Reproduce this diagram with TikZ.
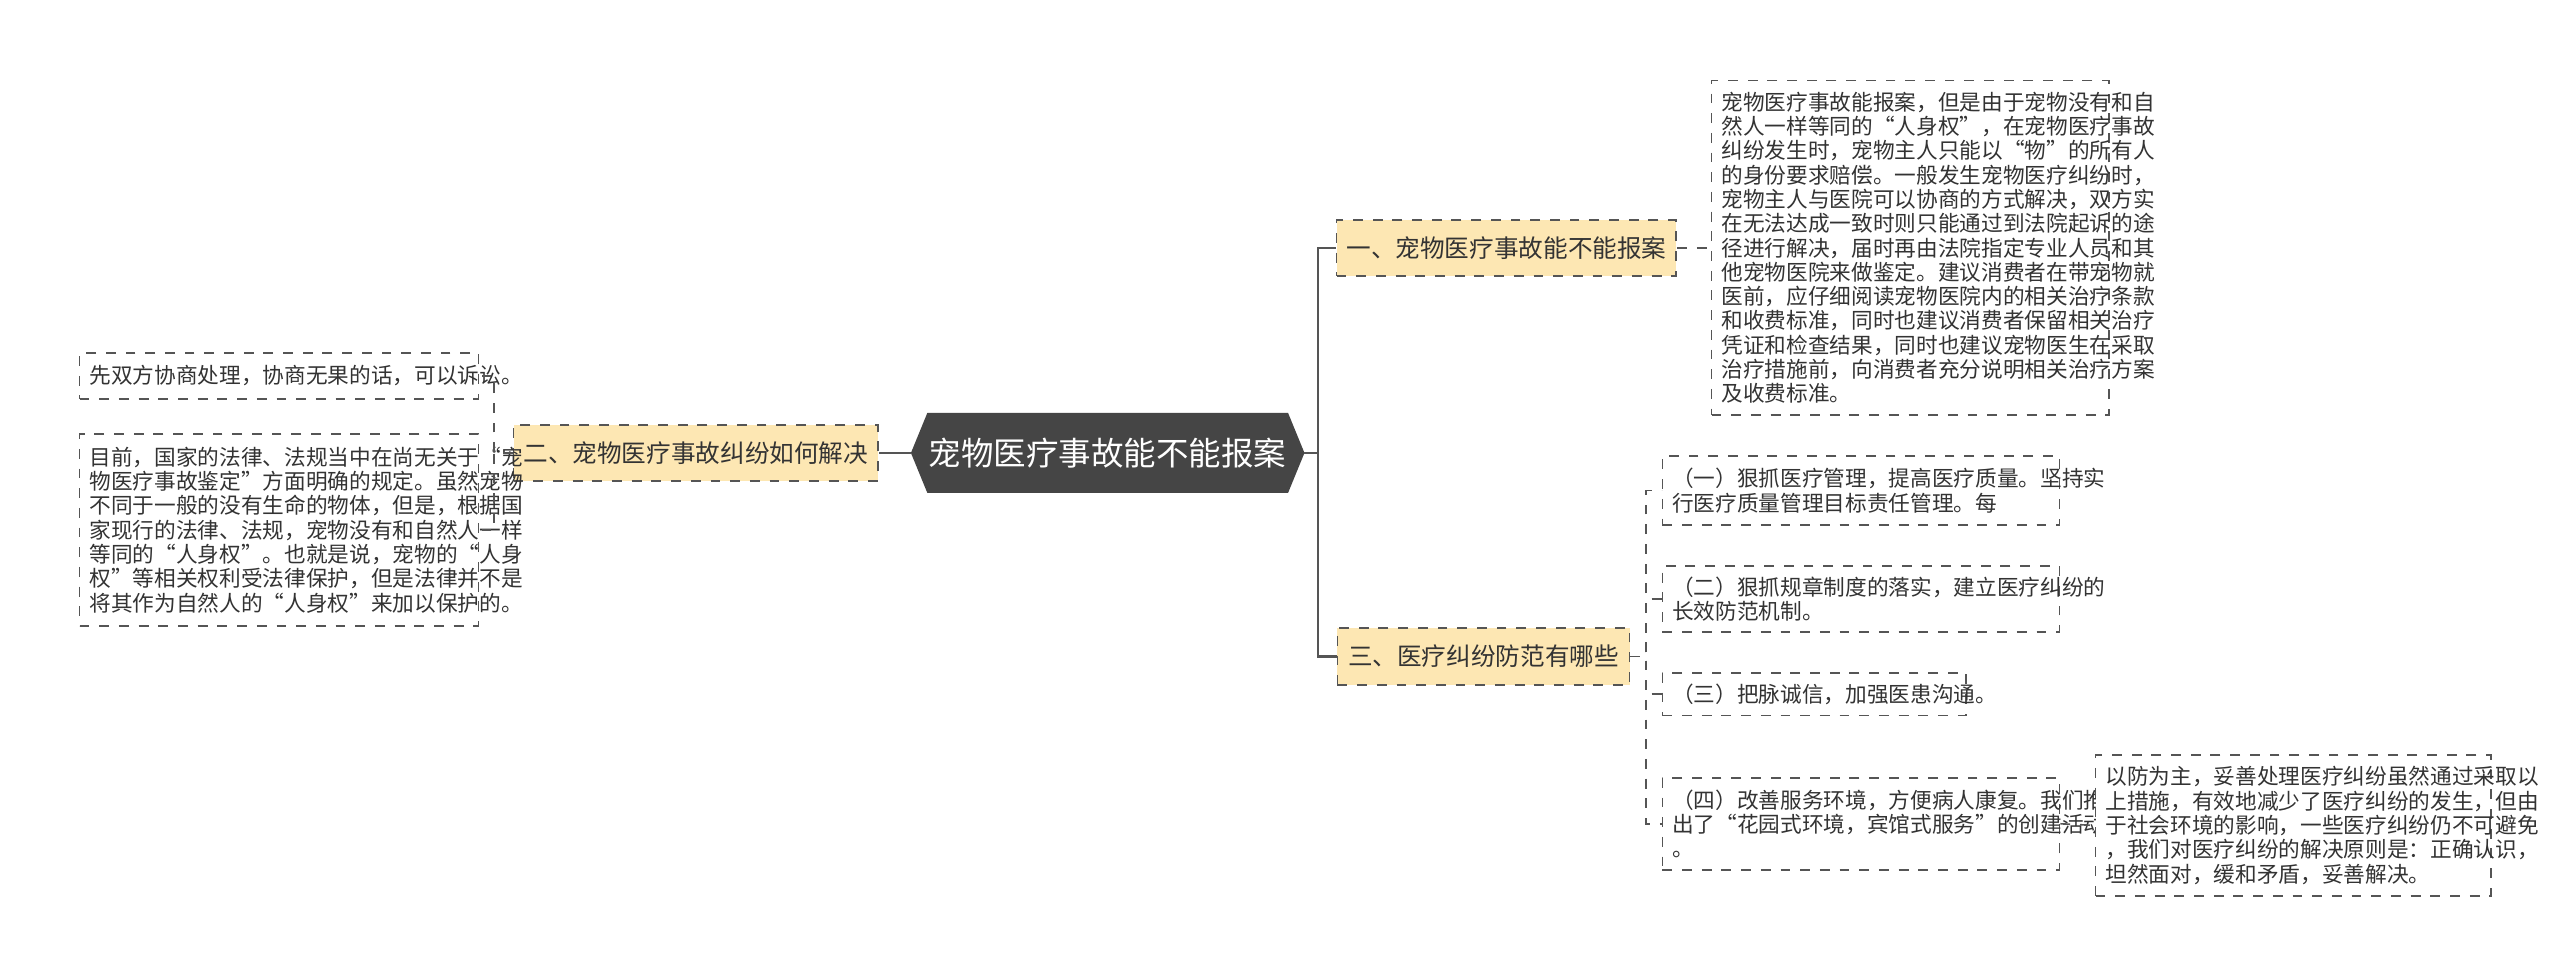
\documentclass[tikz,border=0pt]{standalone}
\usepackage{fontspec}
\setmainfont{Noto Sans CJK SC}
\definecolor{rootc}{HTML}{454545}
\definecolor{brc}{HTML}{FDE7B3}
\definecolor{linec}{HTML}{555555}
\definecolor{txt}{HTML}{333333}
\tikzset{
 para/.style={draw=linec,dashed,line width=0.5pt,fill=white,align=left,inner xsep=3pt,inner ysep=2pt,font=\fontsize{6.6pt}{7.4pt}\selectfont,text=txt,anchor=center},
 branch/.style={draw=linec,dashed,line width=0.5pt,fill=brc,inner sep=0pt,font=\fontsize{7.5pt}{9pt}\selectfont,text=txt},
 conn/.style={draw=linec,line width=0.7pt},
 dconn/.style={draw=linec,line width=0.5pt,dashed}
}
\begin{document}
\begin{tikzpicture}[x=0.5pt,y=-0.5pt]
\useasboundingbox (0,0) rectangle (1560,593);
\fill[white] (0,0) rectangle (1560,593);
% root
\node[minimum width=119.5pt,minimum height=24pt,inner sep=0pt] (root) at (675,276) {};
\fill[rootc] ([xshift=5pt]root.north west) -- ([xshift=-5pt]root.north east) -- (root.east) -- ([xshift=-5pt]root.south east) -- ([xshift=5pt]root.south west) -- (root.west) -- cycle;
\node[text=white,font=\fontsize{9.9pt}{11pt}\selectfont] (rootlabel) at (root) {宠物医疗事故能不能报案};
% branches
\node[branch,minimum width=103.5pt,minimum height=17pt] (b1) at (918,151) {一、宠物医疗事故能不能报案};
\node[branch,minimum width=111pt,minimum height=17pt] (b2) at (424,276) {二、宠物医疗事故纠纷如何解决};
\node[branch,minimum width=89pt,minimum height=17.5pt] (b3) at (904,400) {三、医疗纠纷防范有哪些};
% leaves
\node[para,text width=115pt,minimum height=102pt] (l1) at (1164,151) {宠物医疗事故能报案，但是由于宠物没有和自\\然人一样等同的“人身权”，在宠物医疗事故\\纠纷发生时，宠物主人只能以“物”的所有人\\的身份要求赔偿。一般发生宠物医疗纠纷时，\\宠物主人与医院可以协商的方式解决，双方实\\在无法达成一致时则只能通过到法院起诉的途\\径进行解决，届时再由法院指定专业人员和其\\他宠物医院来做鉴定。建议消费者在带宠物就\\医前，应仔细阅读宠物医院内的相关治疗条款\\和收费标准，同时也建议消费者保留相关治疗\\凭证和检查结果，同时也建议宠物医生在采取\\治疗措施前，向消费者充分说明相关治疗方案\\及收费标准。};
\node[para,text width=115.5pt,minimum height=14pt] (l2) at (170,229) {先双方协商处理，协商无果的话，可以诉讼。};
\node[para,text width=115.5pt,minimum height=58.5pt] (l3) at (170,323) {目前，国家的法律、法规当中在尚无关于“宠\\物医疗事故鉴定”方面明确的规定。虽然宠物\\不同于一般的没有生命的物体，但是，根据国\\家现行的法律、法规，宠物没有和自然人一样\\等同的“人身权”。也就是说，宠物的“人身\\权”等相关权利受法律保护，但是法律并不是\\将其作为自然人的“人身权”来加以保护的。};
\node[para,text width=115pt,minimum height=21pt] (c1) at (1134,299) {（一）狠抓医疗管理，提高医疗质量。坚持实\\行医疗质量管理目标责任管理。每};
\node[para,text width=115pt,minimum height=20pt] (c2) at (1134,365) {（二）狠抓规章制度的落实，建立医疗纠纷的\\长效防范机制。};
\node[para,text width=86.5pt,minimum height=13pt] (c3) at (1105.5,423) {（三）把脉诚信，加强医患沟通。};
\node[para,text width=115pt,minimum height=28pt] (c4) at (1134,502) {（四）改善服务环境，方便病人康复。我们推\\出了“花园式环境，宾馆式服务”的创建活动\\。};
\node[para,text width=114.5pt,minimum height=43pt] (d1) at (1397.5,503) {以防为主，妥善处理医疗纠纷虽然通过采取以\\上措施，有效地减少了医疗纠纷的发生，但由\\于社会环境的影响，一些医疗纠纷仍不可避免\\，我们对医疗纠纷的解决原则是：正确认识，\\坦然面对，缓和矛盾，妥善解决。};
% connectors
\draw[conn] (root.east) -- (803,276) |- (b1.west);
\draw[conn] (root.east) -- (803,276) |- (b3.west);
\draw[conn] (root.west) -- (b2.east);
\draw[dconn] (b1.east) -- (l1.west);
\draw[dconn] (b2.west) -- (301,276) |- (l2.east);
\draw[dconn] (b2.west) -- (301,276) |- (l3.east);
\draw[dconn] (b3.east) -- (1003,400) |- (c1.west);
\draw[dconn] (b3.east) -- (1003,400) |- (c2.west);
\draw[dconn] (b3.east) -- (1003,400) |- (c3.west);
\draw[dconn] (b3.east) -- (1003,400) |- (c4.west);
\draw[dconn] (c4.east) -- (d1.west);
\end{tikzpicture}
\end{document}
